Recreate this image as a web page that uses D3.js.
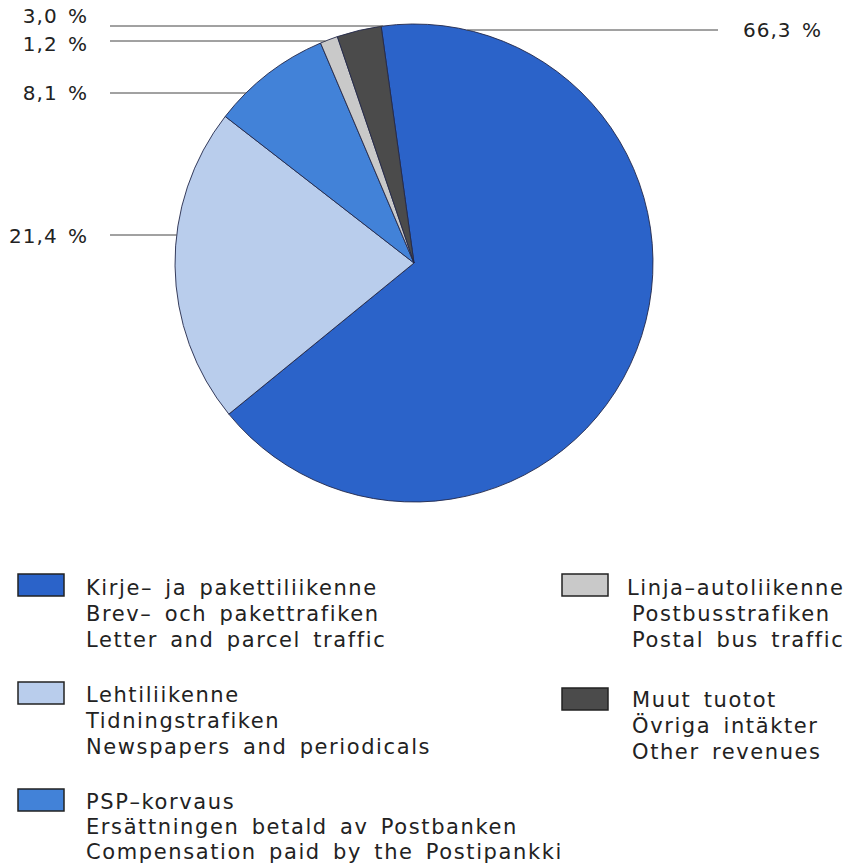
<!DOCTYPE html>
<html>
<head>
<meta charset="utf-8">
<script src="https://cdn.jsdelivr.net/npm/d3@7"></script>
<style>
  html, body { margin: 0; padding: 0; background: #fff; }
  svg { display: block; }
  text { font-family: "DejaVu Sans", sans-serif; fill: #222; }
</style>
</head>
<body>
<svg id="chart" width="850" height="867"></svg>
<script>
// ---- data ----
const categories = ["Kirje", "Lehti", "PSP", "Linja", "Muut"];
const values = [66.3, 21.4, 8.1, 1.2, 3.0];
const legendLines = [
  ["Kirje– ja pakettiliikenne", "Brev– och pakettrafiken", "Letter and parcel traffic"],
  ["Lehtiliikenne", "Tidningstrafiken", "Newspapers and periodicals"],
  ["PSP–korvaus", "Ersättningen betald av Postbanken", "Compensation paid by the Postipankki"],
  ["Linja–autoliikenne", "Postbusstrafiken", "Postal bus traffic"],
  ["Muut tuotot", "Övriga intäkter", "Other revenues"]
];
const sliceColors = ["#2b63c9", "#b9cdec", "#4282d8", "#c9c9c9", "#4b4b4b"];

// ---- layout ----
const cx = 414, cy = 263, r = 239;
const startDeg = -7.9;
// label layout per slice: side, line y, text baseline y
const labelLayout = [
  {side: "right", ly: 30, ty: 37},
  {side: "left", ly: 235, ty: 243},
  {side: "left", ly: 93, ty: 100},
  {side: "left", ly: 41, ty: 51},
  {side: "left", ly: 26, ty: 23}
];
const legendLayout = [
  {sx: 18, sy: 574, tx: 86, ty: 595, gap: 26},
  {sx: 18, sy: 682, tx: 86, ty: 702, gap: 26},
  {sx: 18, sy: 789, tx: 86, ty: 809, gap: 25},
  {sx: 562, sy: 574, tx: 627, ty: 595, tx2: 632, gap: 26},
  {sx: 562, sy: 688, tx: 632, ty: 707, gap: 26}
];

const svg = d3.select("#chart");
const fmt = v => d3.format(".1f")(v).replace(".", ",") + " %";

const start = startDeg * Math.PI / 180;
const pie = d3.pie().sort(null).value(d => d)
  .startAngle(start).endAngle(start + 2 * Math.PI);
const arc = d3.arc().innerRadius(0).outerRadius(r);
const arcs = pie(values);

const g = svg.append("g").attr("transform", `translate(${cx},${cy})`);
g.selectAll("path").data(arcs).join("path")
  .attr("d", arc)
  .attr("fill", (d, i) => sliceColors[i])
  .attr("stroke", "#23284a")
  .attr("stroke-width", 0.9)
  .attr("stroke-linejoin", "round");

// percentage labels with leader lines
arcs.forEach((d, i) => {
  const L = labelLayout[i];
  const dy = L.ly - cy;
  const half = Math.sqrt(Math.max(0, r * r - dy * dy));
  if (L.side === "left") {
    svg.append("line")
      .attr("x1", 110).attr("x2", cx - half)
      .attr("y1", L.ly).attr("y2", L.ly)
      .attr("stroke", "#444").attr("stroke-width", 1);
    svg.append("text")
      .attr("x", 88).attr("y", L.ty)
      .attr("text-anchor", "end")
      .attr("font-size", 20).attr("letter-spacing", 1).attr("word-spacing", 3)
      .text(fmt(values[i]));
  } else {
    svg.append("line")
      .attr("x1", cx + half).attr("x2", 718)
      .attr("y1", L.ly).attr("y2", L.ly)
      .attr("stroke", "#444").attr("stroke-width", 1);
    svg.append("text")
      .attr("x", 743).attr("y", L.ty)
      .attr("font-size", 20).attr("letter-spacing", 1).attr("word-spacing", 3)
      .text(fmt(values[i]));
  }
});

// legend
categories.forEach((c, i) => {
  const L = legendLayout[i];
  svg.append("rect")
    .attr("x", L.sx).attr("y", L.sy)
    .attr("width", 46).attr("height", 22)
    .attr("fill", sliceColors[i])
    .attr("stroke", "#222").attr("stroke-width", 1.5);
  legendLines[i].forEach((t, j) => {
    svg.append("text")
      .attr("x", j === 0 ? L.tx : (L.tx2 || L.tx))
      .attr("y", L.ty + j * L.gap)
      .attr("font-size", 21).attr("letter-spacing", 1.6).attr("word-spacing", 4)
      .text(t);
  });
});
</script>
</body>
</html>
